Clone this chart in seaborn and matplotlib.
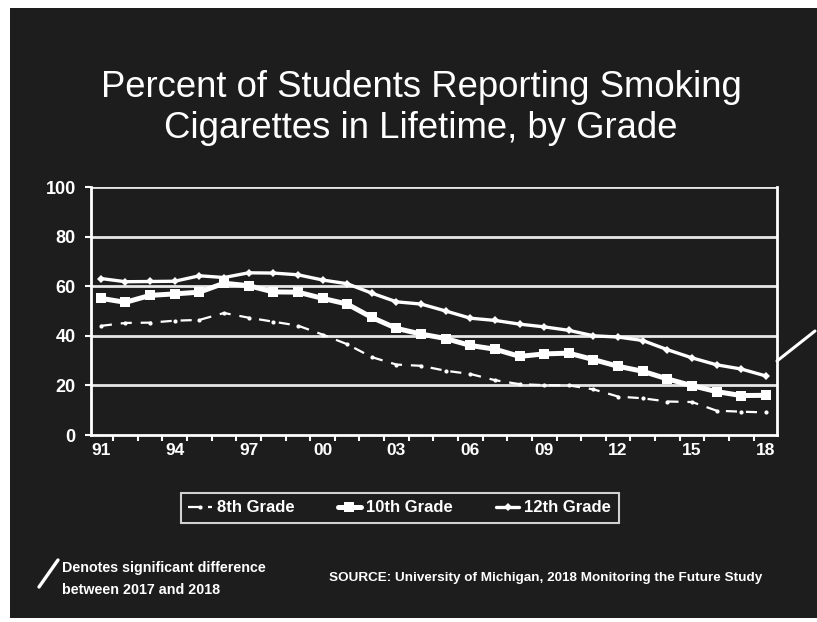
import matplotlib
matplotlib.use("Agg")
import matplotlib.pyplot as plt
from matplotlib.patches import Rectangle
from matplotlib.lines import Line2D
from matplotlib.ticker import FixedLocator
import seaborn as sns
import pandas as pd

# Lifetime cigarette use, percent of students, 1991-2018
years = list(range(1991, 2019))
grade8 = [44.0, 45.2, 45.3, 46.1, 46.4, 49.2, 47.3, 45.7, 44.1, 40.5,
          36.6, 31.4, 28.4, 27.9, 25.9, 24.6, 22.1, 20.5, 20.1, 20.0,
          18.4, 15.5, 14.8, 13.5, 13.3, 9.8, 9.4, 9.1]
grade10 = [55.1, 53.5, 56.3, 56.9, 57.6, 61.2, 60.2, 57.7, 57.6, 55.1,
           52.8, 47.4, 43.0, 40.7, 38.9, 36.1, 34.6, 31.7, 32.7, 33.0,
           30.4, 27.7, 25.7, 22.6, 19.9, 17.5, 15.9, 16.0]
grade12 = [63.1, 61.8, 61.9, 62.0, 64.2, 63.5, 65.4, 65.3, 64.6, 62.5,
           61.0, 57.2, 53.7, 52.8, 50.0, 47.1, 46.2, 44.7, 43.6, 42.2,
           40.0, 39.5, 38.1, 34.4, 31.1, 28.3, 26.6, 23.8]
series_names = ["8th Grade", "10th Grade", "12th Grade"]
tick_years = [1991, 1994, 1997, 2000, 2003, 2006, 2009, 2012, 2015, 2018]
tick_labels = ["91", "94", "97", "00", "03", "06", "09", "12", "15", "18"]
y_ticks = [0, 20, 40, 60, 80, 100]

BG = "#1d1d1d"
FG = "white"

sns.set_theme(style="dark")
plt.rcParams["font.family"] = ["Liberation Sans", "DejaVu Sans"]

fig = plt.figure(figsize=(8.17, 6.22), dpi=100, facecolor="white")
# dark slide panel, kept behind the axes
fig.patches.append(Rectangle((10 / 817, 4 / 622), 1 - 10 / 817, 610 / 622,
                             transform=fig.transFigure, facecolor=BG,
                             edgecolor="none", zorder=-5))

ax = fig.add_axes([91 / 817, 1 - 435 / 622, (777 - 91) / 817, (435 - 187) / 622])
ax.set_zorder(2)
ax.set_facecolor(BG)

df = pd.DataFrame({"year": years * 3,
                   "value": grade8 + grade10 + grade12,
                   "grade": sum([[n] * len(years) for n in series_names], [])})

styles = {
    "8th Grade": dict(lw=1.6, marker="o", ms=3, dashes=(5, 4)),
    "10th Grade": dict(lw=3.6, marker="s", ms=6.5, dashes=None),
    "12th Grade": dict(lw=2.4, marker="D", ms=4, dashes=None),
}
for name in series_names:
    st = styles[name]
    sub = df[df["grade"] == name]
    sns.lineplot(x="year", y="value", data=sub, ax=ax, color=FG, lw=st["lw"],
                 marker=st["marker"], markersize=st["ms"], markeredgewidth=0,
                 label=name, zorder=3)
    if st["dashes"] is not None:
        ax.lines[-1].set_dashes(st["dashes"])

ax.set_xlim(1990.6, 2018.45)
ax.set_ylim(0, 100)
ax.set_xticks(tick_years)
ax.set_xticklabels(tick_labels)
ax.xaxis.set_minor_locator(FixedLocator([y + 0.5 for y in range(1990, 2019)]))
ax.set_yticks(y_ticks)
ax.set_xlabel("")
ax.set_ylabel("")

ax.grid(False)
for yv in y_ticks[1:]:
    ax.axhline(yv, color="#e6e6e6", lw=2.0, zorder=1)

for side in ["left", "right", "bottom"]:
    ax.spines[side].set_visible(True)
    ax.spines[side].set_color(FG)
    ax.spines[side].set_linewidth(2.0)
ax.spines["top"].set_visible(False)

ax.tick_params(axis="x", which="major", length=0, pad=6,
               labelsize=12.5, labelcolor=FG)
ax.tick_params(axis="x", which="minor", bottom=True, length=4, width=1.5,
               color=FG, direction="out")
ax.tick_params(axis="y", which="major", left=True, length=4, width=1.5,
               color=FG, direction="out", pad=7, labelsize=13, labelcolor=FG)
for lab in ax.get_xticklabels() + ax.get_yticklabels():
    lab.set_fontweight("bold")

leg = ax.legend(loc="upper center", bbox_to_anchor=(0.45, -0.20), ncol=3,
                frameon=True, fontsize=12, handlelength=1.4, handletextpad=0.3,
                columnspacing=2.6, borderpad=0.45, fancybox=False)
leg.get_frame().set_facecolor(BG)
leg.get_frame().set_edgecolor(FG)
leg.get_frame().set_linewidth(1.5)
for t in leg.get_texts():
    t.set_color(FG)
    t.set_fontweight("bold")

# title
fig.text(421 / 817, 1 - 97 / 622, "Percent of Students Reporting Smoking",
         ha="center", va="baseline", color=FG, fontsize=26.3)
fig.text(421 / 817, 1 - 138 / 622, "Cigarettes in Lifetime, by Grade",
         ha="center", va="baseline", color=FG, fontsize=26.3)

# significance marker beside the axis
fig.lines.append(Line2D([777 / 817, 815 / 817], [1 - 361 / 622, 1 - 331 / 622],
                        transform=fig.transFigure, color=FG, lw=2.2, zorder=5))
fig.lines.append(Line2D([39 / 817, 58 / 817], [1 - 587 / 622, 1 - 560 / 622],
                        transform=fig.transFigure, color=FG, lw=2.4))

fig.text(62 / 817, 1 - 568 / 622, "Denotes significant difference",
         ha="left", va="center", color=FG, fontsize=10.3, fontweight="bold")
fig.text(62 / 817, 1 - 590 / 622, "between 2017 and 2018",
         ha="left", va="center", color=FG, fontsize=10.3, fontweight="bold")
fig.text(546 / 817, 1 - 578 / 622,
         "SOURCE: University of Michigan, 2018 Monitoring the Future Study",
         ha="center", va="center", color=FG, fontsize=9.7, fontweight="bold")

fig.savefig("out.png", dpi=100, facecolor=fig.get_facecolor())
